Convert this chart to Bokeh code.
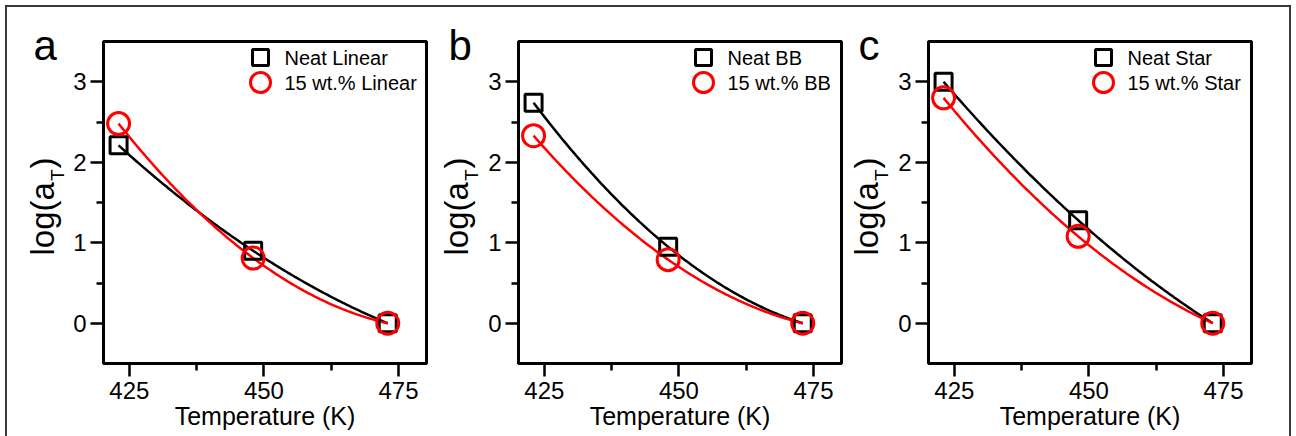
import numpy as np
from bokeh.plotting import figure
from bokeh.models import Label, FixedTicker, Range1d
from bokeh.layouts import row
from bokeh.embed import file_html
from bokeh.resources import INLINE
from bokeh.core.properties import value

# ---------------- data ----------------
temperature = [423, 448, 473]

neat_linear = [2.21, 0.90, 0.0]
filled_linear = [2.48, 0.81, 0.0]

neat_bb = [2.74, 0.95, 0.0]
filled_bb = [2.33, 0.79, 0.0]

neat_star = [3.00, 1.28, 0.0]
filled_star = [2.80, 1.08, 0.0]

panel_letters = ["a", "b", "c"]
neat_labels = ["Neat Linear", "Neat BB", "Neat Star"]
filled_labels = ["15 wt.% Linear", "15 wt.% BB", "15 wt.% Star"]

x_ticks = [425, 450, 475]
x_minor_ticks = [437.5, 462.5]
y_ticks = [0, 1, 2, 3]
y_minor_ticks = [0.5, 1.5, 2.5]

x_label = "Temperature (K)"

# ---------------- styling / layout constants ----------------
FONT = "Liberation Sans"
RED = "#ff0000"
FRAME_W = 323
FRAME_H = 322
FIG_H = 429
X_MIN, X_MAX = 420.2, 480.2
Y_MIN, Y_MAX = -0.5, 3.5


def smooth_fit(xs, ys, n=120):
    """Quadratic fit through the measured points (the fitted curve)."""
    coeffs = np.polyfit(xs, ys, 2)
    xx = np.linspace(min(xs), max(xs), n)
    return xx, np.polyval(coeffs, xx)


def px_to_data_x(px):
    return X_MIN + px * (X_MAX - X_MIN) / FRAME_W


def px_to_data_y(px_from_top):
    return Y_MAX - px_from_top * (Y_MAX - Y_MIN) / FRAME_H


def make_strip(letter, width, letter_x, ylab_x):
    """Narrow canvas holding the panel letter and the rotated y label."""
    s = figure(width=width, height=FIG_H, x_axis_type=None, y_axis_type=None,
               min_border_left=0, min_border_right=0, min_border_top=0,
               min_border_bottom=0, x_range=Range1d(0, 1), y_range=Range1d(0, 1),
               frame_align=False,
               output_backend="svg", toolbar_location=None)
    s.outline_line_color = None
    s.xgrid.grid_line_color = None
    s.ygrid.grid_line_color = None
    s.background_fill_color = "white"
    s.border_fill_color = "white"
    s.add_layout(Label(x=letter_x, y=391, x_units="screen", y_units="screen",
                       text=letter, text_font=FONT, text_font_size="42px",
                       text_color="black", text_align="left",
                       text_baseline="alphabetic"))
    y0 = 181
    s.add_layout(Label(x=ylab_x, y=y0, x_units="screen", y_units="screen",
                       text="log(a", angle=90, angle_units="deg",
                       text_font=FONT, text_font_size="33px", text_color="black",
                       text_align="left", text_baseline="alphabetic"))
    s.add_layout(Label(x=ylab_x + 15, y=y0 + 74.5, x_units="screen", y_units="screen",
                       text="T", angle=90, angle_units="deg",
                       text_font=FONT, text_font_size="19px", text_color="black",
                       text_align="left", text_baseline="alphabetic"))
    s.add_layout(Label(x=ylab_x, y=y0 + 87, x_units="screen", y_units="screen",
                       text=")", angle=90, angle_units="deg",
                       text_font=FONT, text_font_size="33px", text_color="black",
                       text_align="left", text_baseline="alphabetic"))
    return s


def make_panel(neat, filled, neat_label, filled_label,
               width, border_left, border_right, legend_px):
    p = figure(width=width, height=FIG_H,
               min_border_left=border_left, min_border_right=border_right,
               min_border_top=34, min_border_bottom=FIG_H - 34 - FRAME_H,
               x_range=Range1d(X_MIN, X_MAX), y_range=Range1d(Y_MIN, Y_MAX),
               frame_align=False,
               output_backend="svg", toolbar_location=None)
    p.xgrid.grid_line_color = None
    p.ygrid.grid_line_color = None
    p.outline_line_color = "black"
    p.outline_line_width = 3
    p.outline_line_alpha = 1.0
    p.background_fill_color = "white"
    p.border_fill_color = "white"

    p.xaxis.ticker = FixedTicker(ticks=x_ticks, minor_ticks=x_minor_ticks)
    p.yaxis.ticker = FixedTicker(ticks=y_ticks, minor_ticks=y_minor_ticks)
    for ax in (p.xaxis[0], p.yaxis[0]):
        ax.axis_line_color = "black"
        ax.axis_line_width = 3
        ax.major_tick_line_color = "black"
        ax.minor_tick_line_color = "black"
        ax.major_tick_line_width = 2.5
        ax.minor_tick_line_width = 2.5
        ax.major_tick_in = 0
        ax.major_tick_out = 13
        ax.minor_tick_in = 0
        ax.minor_tick_out = 7
        ax.major_label_text_font = FONT
        ax.major_label_text_font_size = "24px"
        ax.major_label_text_color = "black"
    p.xaxis.major_label_standoff = 5
    p.yaxis.major_label_standoff = 4

    p.xaxis.axis_label = x_label
    p.xaxis.axis_label_text_font = FONT
    p.xaxis.axis_label_text_font_size = "25px"
    p.xaxis.axis_label_text_font_style = "normal"
    p.xaxis.axis_label_text_color = "black"
    p.xaxis.axis_label_standoff = 0

    xx, yy = smooth_fit(temperature, neat)
    p.line(xx, yy, line_color="black", line_width=2.5)
    xx, yy = smooth_fit(temperature, filled)
    p.line(xx, yy, line_color=RED, line_width=2.5)

    p.scatter(temperature, neat, marker="square", size=17,
              fill_color=None, line_color="black", line_width=3)
    p.scatter(temperature, filled, marker="circle", size=22,
              fill_color=None, line_color=RED, line_width=3)

    # legend (drawn by hand so the symbols keep the size of the reference)
    lx = px_to_data_x(legend_px)
    ly1 = px_to_data_y(16)
    ly2 = px_to_data_y(41)
    p.scatter([lx], [ly1], marker="square", size=16, fill_color=None,
              line_color="black", line_width=3)
    p.scatter([lx], [ly2], marker="circle", size=20, fill_color=None,
              line_color=RED, line_width=3)
    p.text(x=[lx, lx], y=[ly1, ly2], text=[neat_label, filled_label],
           x_offset=24, text_baseline="middle", text_align="left",
           text_font=value(FONT), text_font_size="20px", text_color="black")
    return p


# page x:  7 | strip a 59 | fig a 366 | strip b 50 | fig b 363 | strip c 47 | fig c 397 | 1289
sa = make_strip(panel_letters[0], 59, 26, 34.5)
pa = make_panel(neat_linear, filled_linear, neat_labels[0], filled_labels[0],
                366, 37, 6, 157)
sb = make_strip(panel_letters[1], 50, 16, 23.5)
pb = make_panel(neat_bb, filled_bb, neat_labels[1], filled_labels[1],
                363, 36, 4, 185)
sc = make_strip(panel_letters[2], 47, 13, 20.5)
pc = make_panel(neat_star, filled_star, neat_labels[2], filled_labels[2],
                397, 36, 38, 175)

frame_color = "#383838"
layout = row(sa, pa, sb, pb, sc, pc, styles={
    "margin": "7px 0 0 7px",
    "box-shadow": (f"0 -2px 0 0 {frame_color}, -2px 0 0 0 {frame_color}, "
                   f"2px 0 0 0 {frame_color}, -2px -2px 0 0 {frame_color}, "
                   f"2px -2px 0 0 {frame_color}")
})

open("out.html", "w").write(file_html(layout, INLINE))
